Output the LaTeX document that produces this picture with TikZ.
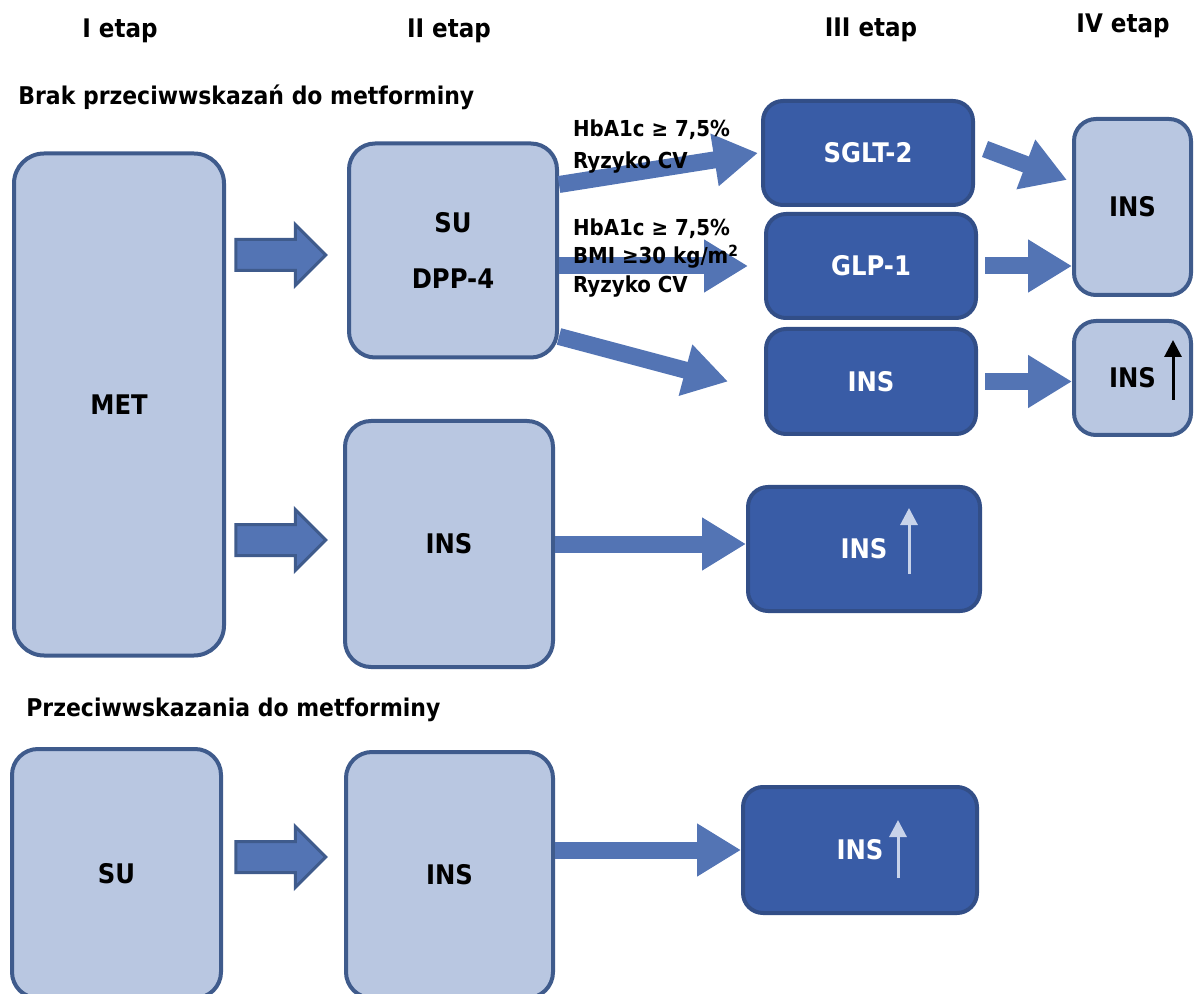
\documentclass[tikz,border=0pt]{standalone}
\usepackage{fontspec}
\setmainfont{DejaVu Sans}[FakeStretch=0.9]
\usetikzlibrary{arrows.meta,shapes.arrows}

\definecolor{jasnoniebieski}{RGB}{185,199,225}
\definecolor{ciemnoniebieski}{RGB}{57,92,166}
\definecolor{ramka}{RGB}{63,91,140}
\definecolor{ramkaciemna}{RGB}{50,78,135}
\definecolor{strzalkowy}{RGB}{83,116,180}
\definecolor{bladystrzalka}{RGB}{200,211,234}

\tikzset{
  lek/.style={draw=ramka, fill=jasnoniebieski, line width=2pt, rounded corners=13pt,
    font=\fontsize{13.5}{16}\selectfont\bfseries, align=center, inner sep=0pt},
  lekciemny/.style={lek, draw=ramkaciemna, fill=ciemnoniebieski, text=white, rounded corners=10pt},
  przejscie/.style={draw=strzalkowy, line width=8.5pt, -{Triangle[length=22pt,width=25pt]}},
  grubastrzalka/.style={single arrow, draw=ramka, fill=strzalkowy, line width=1.5pt,
    inner xsep=0pt, inner ysep=7pt, minimum height=45pt, minimum width=30pt, single arrow head extend=7.5pt},
  wzrost/.style={line width=1.5pt, -{Triangle[length=8.5pt,width=8.5pt]}},
  etap/.style={font=\fontsize{12.8}{15}\selectfont\bfseries},
  naglowek/.style={anchor=west, inner sep=0pt, font=\fontsize{12.2}{15}\selectfont\bfseries},
}

\begin{document}
\begin{tikzpicture}[x=0.5pt,y=-0.5pt]
    \useasboundingbox (0,0) rectangle (1194,994);

    % ~~~~ Etapy ~~~~ %
    \node[etap] (e1) at (120,31) {I etap};
    \node[etap] (e2) at (449,31) {II etap};
    \node[etap] (e3) at (871,30) {III etap};
    \node[etap] (e4) at (1123,26) {IV etap};

    \node[naglowek] (brak) at (18,97) {Brak przeciwwskazań do metforminy};
    \node[naglowek] (przec) at (26,710) {Przeciwwskazania do metforminy};

    % ~~~~ Leczenie ~~~~ %
    \node[lek, minimum width=105pt, minimum height=251pt, rounded corners=15pt] (met) at (119,404.5) {MET};
    \node[lek, minimum width=104pt, minimum height=107pt] (su) at (453,250.5) {SU\\[12pt]DPP-4};
    \node[lek, minimum width=104pt, minimum height=123pt] (ins2) at (449,544) {INS};

    \node[lekciemny, minimum width=105pt, minimum height=52pt] (sglt) at (868,153) {SGLT-2};
    \node[lekciemny, minimum width=105pt, minimum height=52pt] (glp) at (871,266) {GLP-1};
    \node[lekciemny, minimum width=105pt, minimum height=52.5pt] (ins3) at (871,381.5) {INS};
    \node[lekciemny, minimum width=116pt, minimum height=62pt] (ins3up) at (864,549) {INS};

    \node[lek, minimum width=58.5pt, minimum height=88pt, rounded corners=11pt] (ins4) at (1132.5,207) {INS};
    \node[lek, minimum width=58.5pt, minimum height=57pt, rounded corners=11pt] (ins4up) at (1132.5,378) {INS};

    \node[lek, minimum width=104.5pt, minimum height=124.5pt] (sub) at (116.5,873.5) {SU};
    \node[lek, minimum width=103.5pt, minimum height=123pt] (insb) at (449.5,875) {INS};
    \node[lekciemny, minimum width=117pt, minimum height=63pt] (insbup) at (860,850) {INS};

    % ~~~~ Wzrost dawki ~~~~ %
    \draw[wzrost, draw=bladystrzalka, fill=bladystrzalka] ([shift={(45,25)}]ins3up.center) -- ++(0,-66);
    \draw[wzrost, draw=bladystrzalka, fill=bladystrzalka] ([shift={(38,28)}]insbup.center) -- ++(0,-58);
    \draw[wzrost, draw=black, fill=black] ([shift={(40.5,22)}]ins4up.center) -- ++(0,-60);

    % ~~~~ Przejścia ~~~~ %
    \node[grubastrzalka] (s1) at (273,255) {};
    \node[grubastrzalka] (s2) at (273,540) {};
    \node[grubastrzalka] (s3) at (273,857) {};

    \draw[przejscie] ([yshift=33pt]su.east) -- ([xshift=-1.5pt]sglt.west);
    \draw[przejscie] (su.east |- glp.west) -- ([xshift=-8pt]glp.west);
    \draw[przejscie] ([yshift=-43pt]su.east) -- ([xshift=-18pt]ins3.west);
    \draw[przejscie] ([xshift=5pt,yshift=2pt]sglt.east) -- ([xshift=-2.5pt,yshift=13.5pt]ins4.west);
    \draw[przejscie] ([xshift=3.5pt]glp.east) -- (ins4.west |- glp.east);
    \draw[przejscie] ([xshift=3.5pt]ins3.east) -- (ins4up.west |- ins3.east);
    \draw[przejscie] (ins2.east) -- (ins3up.west |- ins2.east);
    \draw[przejscie] (insb.east |- insbup.west) -- (insbup.west);

    % ~~~~ Warunki ~~~~ %
    \node[anchor=west, align=left, font=\fontsize{11}{16}\selectfont\bfseries] (w1) at (566,147)
        {HbA1c ≥ 7,5\%\\Ryzyko CV};
    \node[anchor=west, align=left, font=\fontsize{11}{14.3}\selectfont\bfseries] (w2) at (566,258)
        {HbA1c ≥ 7,5\%\\BMI ≥30 kg/m\textsuperscript{2}\\Ryzyko CV};
\end{tikzpicture}
\end{document}
